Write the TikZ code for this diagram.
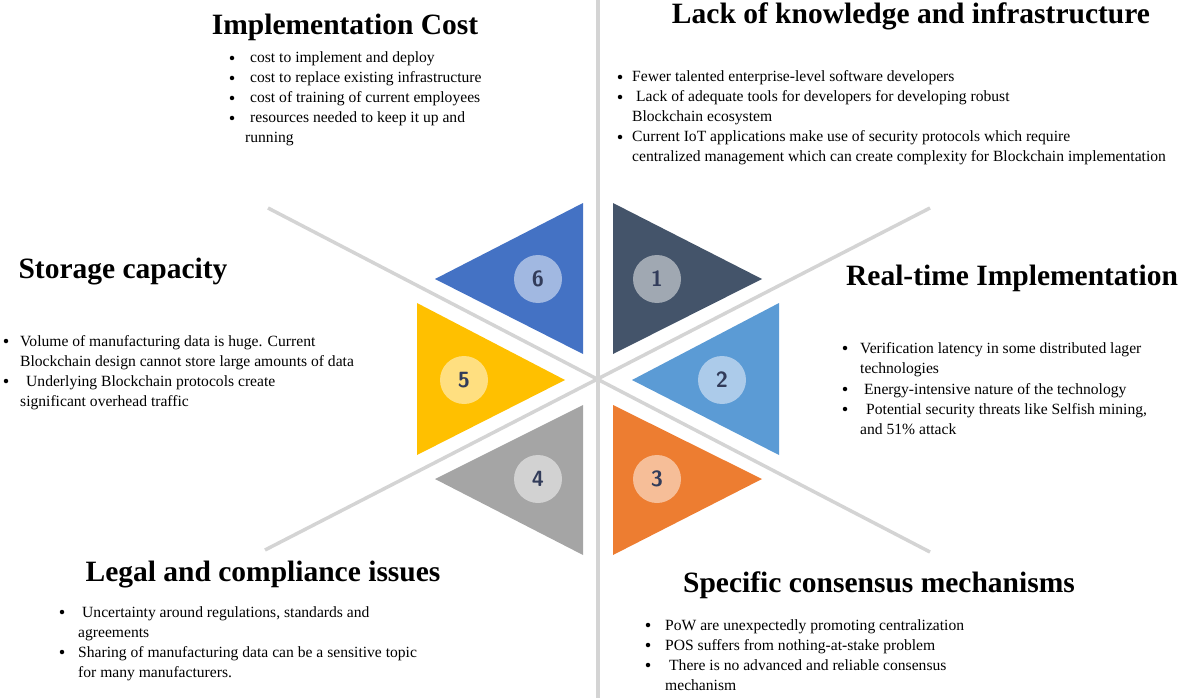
\documentclass[tikz,border=0pt]{standalone}
\usepackage{fontspec}
\setmainfont{Liberation Serif}
\begin{document}
\begin{tikzpicture}[x=1pt,y=-1pt,
  ttl/.style={font=\fontsize{29.5}{32}\selectfont\bfseries,anchor=center,inner sep=0},
  txt/.style={font=\fontsize{15.6}{18}\selectfont,anchor=base west,inner sep=0},
  dot/.style={circle,fill=black,inner sep=0,minimum size=4.5pt},
  sep/.style={draw=black!17,line width=3.5pt},
  num/.style={circle,minimum size=48pt,inner sep=0,font=\sffamily\bfseries\fontsize{22}{22}\selectfont,text={rgb,255:red,50;green,60;blue,90}}]
\useasboundingbox (0,0) rectangle (1200,698);
\coordinate (c) at (598,380);
\coordinate (vt) at (598,0); \coordinate (vb) at (598,698);
\coordinate (d1a) at (268,208); \coordinate (d1b) at (930,552);
\coordinate (d2a) at (265,550); \coordinate (d2b) at (930,208);
\draw[sep] (vt) -- (vb);
\draw[sep] (d1a) -- (d1b);
\draw[sep] (d2a) -- (d2b);
% triangles
\fill[fill={rgb,255:red,68;green,84;blue,106}] (613,203) -- (762,279) -- (613,354) -- cycle;
\fill[fill={rgb,255:red,91;green,155;blue,213}] (779,303) -- (779,455) -- (632,380) -- cycle;
\fill[fill={rgb,255:red,237;green,125;blue,49}] (613,405) -- (762,479) -- (613,555) -- cycle;
\fill[fill={rgb,255:red,165;green,165;blue,165}] (583,405) -- (435,479) -- (583,555) -- cycle;
\fill[fill={rgb,255:red,255;green,192;blue,0}] (417,303) -- (417,455) -- (565,380) -- cycle;
\fill[fill={rgb,255:red,68;green,114;blue,196}] (583,203) -- (435,279) -- (583,354) -- cycle;
\node[num,fill={rgb,255:red,160;green,168;blue,178}] (n1) at (657,279) {1};
\node[num,fill={rgb,255:red,172;green,203;blue,234}] (n2) at (722,380) {2};
\node[num,fill={rgb,255:red,246;green,190;blue,152}] (n3) at (657,479) {3};
\node[num,fill={rgb,255:red,210;green,210;blue,210}] (n4) at (538,479) {4};
\node[num,fill={rgb,255:red,255;green,223;blue,128}] (n5) at (464,380) {5};
\node[num,fill={rgb,255:red,161;green,184;blue,225}] (n6) at (538,279) {6};
% Implementation Cost
\node[ttl] (t6) at (345,27) {Implementation Cost};
\node[dot] (b61) at (232,58) {}; \node[txt] (l61) at (250,63) {cost to implement and deploy};
\node[dot] (b62) at (232,78) {}; \node[txt] (l62) at (250,83) {cost to replace existing infrastructure};
\node[dot] (b63) at (232,98) {}; \node[txt] (l63) at (250,103) {cost of training of current employees};
\node[dot] (b64) at (232,118) {}; \node[txt] (l64) at (250,123) {resources needed to keep it up and};
\node[txt] (l65) at (245,143) {running};
% Lack of knowledge
\node[ttl] (t1) at (911,16) {Lack of knowledge and infrastructure};
\node[dot] (b11) at (620,77) {}; \node[txt] (l11) at (632,82) {Fewer talented enterprise-level software developers};
\node[dot] (b12) at (620,97) {}; \node[txt] (l12) at (636,102) {Lack of adequate tools for developers for developing robust};
\node[txt] (l13) at (632,122) {Blockchain ecosystem};
\node[dot] (b14) at (620,137) {}; \node[txt] (l14) at (632,142) {Current IoT applications make use of security protocols which require};
\node[txt] (l15) at (632,162) {centralized management which can create complexity for Blockchain implementation};
% Storage capacity
\node[ttl] (t5) at (123,272) {Storage capacity};
\node[dot] (b51) at (6,341) {}; \node[txt] (l51) at (20,346) {Volume of manufacturing data is huge. Current};
\node[txt] (l52) at (20,366) {Blockchain design cannot store large amounts of data};
\node[dot] (b53) at (6,381) {}; \node[txt] (l53) at (26,386) {Underlying Blockchain protocols create};
\node[txt] (l54) at (20,406) {significant overhead traffic};
% Real-time
\node[ttl] (t2) at (1012,278) {Real-time Implementation};
\node[dot] (b21) at (845,348) {}; \node[txt] (l21) at (860,353) {Verification latency in some distributed lager};
\node[txt] (l22) at (860,373) {technologies};
\node[dot] (b23) at (845,389) {}; \node[txt] (l23) at (864,394) {Energy-intensive nature of the technology};
\node[dot] (b24) at (845,409) {}; \node[txt] (l24) at (866,414) {Potential security threats like Selfish mining,};
\node[txt] (l25) at (860,434) {and 51\% attack};
% Legal
\node[ttl] (t4) at (263,575) {Legal and compliance issues};
\node[dot] (b41) at (62,612) {}; \node[txt] (l41) at (82,617) {Uncertainty around regulations, standards and};
\node[txt] (l42) at (78,637) {agreements};
\node[dot] (b43) at (62,652) {}; \node[txt] (l43) at (78,657) {Sharing of manufacturing data can be a sensitive topic};
\node[txt] (l44) at (78,677) {for many manufacturers.};
% Specific consensus
\node[ttl] (t3) at (879,585) {Specific consensus mechanisms};
\node[dot] (b31) at (648,625) {}; \node[txt] (l31) at (665,630) {PoW are unexpectedly promoting centralization};
\node[dot] (b32) at (648,645) {}; \node[txt] (l32) at (665,650) {POS suffers from nothing-at-stake problem};
\node[dot] (b33) at (648,665) {}; \node[txt] (l33) at (669,670) {There is no advanced and reliable consensus};
\node[txt] (l34) at (665,690) {mechanism};
\end{tikzpicture}
\end{document}
